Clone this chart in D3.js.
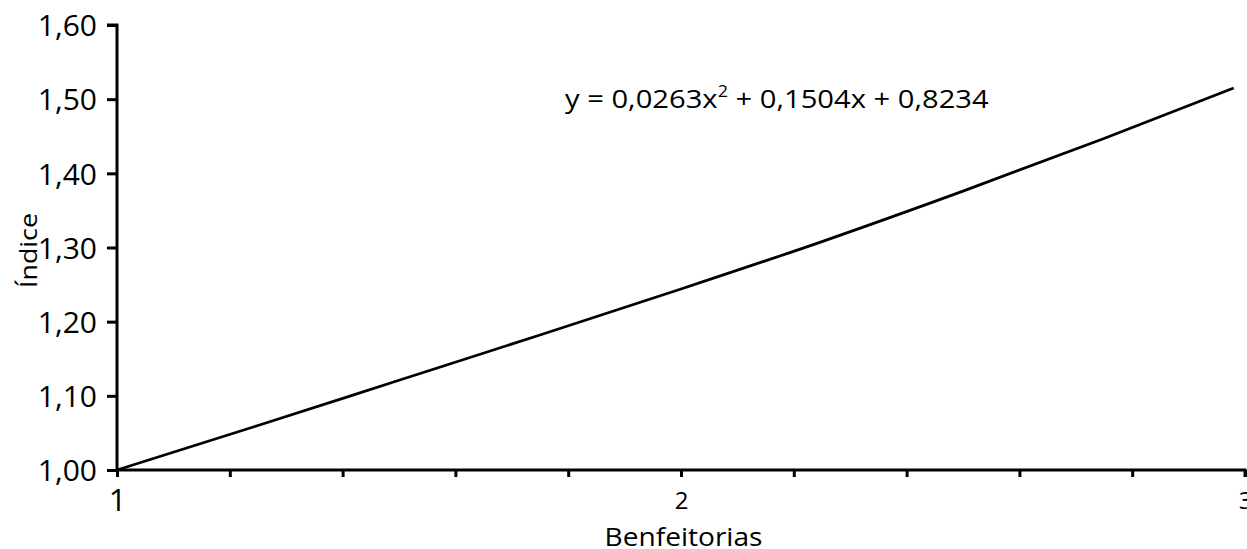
<!DOCTYPE html>
<html>
<head>
<meta charset="utf-8">
<script src="https://cdn.jsdelivr.net/npm/d3@7"></script>
<style>
  html, body { margin: 0; padding: 0; background: #fff; overflow: hidden; }
  svg { display: block; font-family: "Open Sans", "Noto Sans", sans-serif; }
</style>
</head>
<body>
<svg id="chart" width="1247" height="549"></svg>
<script>
// Data
const xValues = [1.00, 1.25, 1.50, 1.75, 2.00, 2.25, 2.50, 2.75, 2.98];
const yValues = [1.000, 1.060, 1.121, 1.182, 1.244, 1.308, 1.376, 1.447, 1.515];
const yTicks = [1.00, 1.10, 1.20, 1.30, 1.40, 1.50, 1.60];
const xMajorTicks = [1, 2, 3];
const xMinorTicks = [1.2, 1.4, 1.6, 1.8, 2.2, 2.4, 2.6, 2.8];
const equationText = ["y = 0,0263x", "2", " + 0,1504x + 0,8234"];
const xTitle = "Benfeitorias";
const yTitle = "Índice";

const FONT = '"Open Sans", "Noto Sans", sans-serif';
const svg = d3.select("#chart");
const mLeft = 117, mRight = 1245, mTop = 25, mBottom = 470;

const x = d3.scaleLinear().domain([1, 3]).range([mLeft, mRight]);
const y = d3.scaleLinear().domain([1.0, 1.6]).range([mBottom, mTop]);

const fmt = v => d3.format(".2f")(v).replace(".", ",");

// Y axis
const yAxis = svg.append("g")
  .attr("transform", `translate(${mLeft},0)`)
  .call(d3.axisLeft(y).tickValues(yTicks).tickFormat(fmt).tickSize(10).tickPadding(10));
yAxis.attr("font-family", FONT);
yAxis.select(".domain").attr("stroke", "#000").attr("stroke-width", 3)
  .attr("d", `M-10,${mTop}H0V${mBottom}`);
yAxis.selectAll(".tick line").attr("stroke", "#000").attr("stroke-width", 3);
yAxis.selectAll(".tick text").attr("fill", "#000").style("font-size", "30px").attr("dy", "0.36em");

// X axis minor ticks
const xMinor = svg.append("g")
  .attr("transform", `translate(0,${mBottom})`)
  .call(d3.axisBottom(x).tickValues(xMinorTicks).tickFormat("").tickSize(7));
xMinor.select(".domain").remove();
xMinor.selectAll(".tick line").attr("stroke", "#000").attr("stroke-width", 3);

// X axis major
const xAxis = svg.append("g")
  .attr("transform", `translate(0,${mBottom})`)
  .call(d3.axisBottom(x).tickValues(xMajorTicks).tickFormat(d3.format("d")).tickSize(7));
xAxis.attr("font-family", FONT);
xAxis.select(".domain").attr("stroke", "#000").attr("stroke-width", 3)
  .attr("d", `M${mLeft},0H${mRight}V7`);
xAxis.selectAll(".tick line").attr("stroke", "#000").attr("stroke-width", 3);
xAxis.selectAll(".tick text").attr("fill", "#000")
  .style("font-size", d => d === 1 ? "31px" : "24px")
  .attr("y", d => d === 1 ? 41 : 39)
  .attr("dy", "0");

// Curve
const line = d3.line()
  .x((d, i) => x(xValues[i]))
  .y(d => y(d))
  .curve(d3.curveMonotoneX);
svg.append("path")
  .datum(yValues)
  .attr("fill", "none")
  .attr("stroke", "#000")
  .attr("stroke-width", 2.8)
  .attr("stroke-linecap", "butt")
  .attr("d", line);

// helper: stretch text horizontally to a target width
function fitWidth(textSel, target) {
  const w = textSel.node().getComputedTextLength();
  return target / w;
}

// Equation
const eqG = svg.append("g");
const eq = eqG.append("text")
  .attr("fill", "#000")
  .style("font-size", "26px");
eq.append("tspan").text(equationText[0]);
eq.append("tspan").text(equationText[1]).attr("dy", -11).style("font-size", "16px");
eq.append("tspan").text(equationText[2]).attr("dy", 11);
const eqW = eq.node().getBBox().width;
eqG.attr("transform", `translate(565,108) scale(${424 / eqW},1)`);

// X title
const xtG = svg.append("g");
const xt = xtG.append("text")
  .attr("text-anchor", "middle")
  .attr("fill", "#000")
  .style("font-size", "25px")
  .text(xTitle);
xtG.attr("transform", `translate(683.5,546) scale(${fitWidth(xt, 158)},1)`);

// Y title
const ytG = svg.append("g");
const yt = ytG.append("text")
  .attr("text-anchor", "middle")
  .attr("fill", "#000")
  .style("font-size", "24px")
  .text(yTitle);
ytG.attr("transform", `translate(37,250.5) rotate(-90) scale(${fitWidth(yt, 75)},1)`);
</script>
</body>
</html>
